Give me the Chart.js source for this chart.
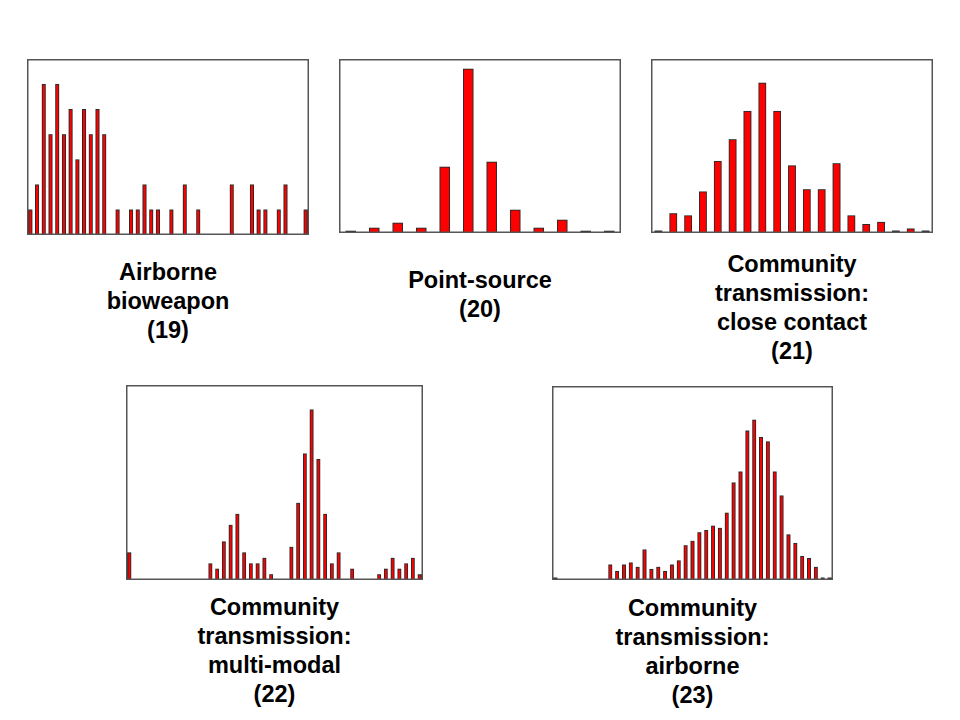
<!DOCTYPE html>
<html>
<head>
<meta charset="utf-8">
<script src="https://cdn.jsdelivr.net/npm/chart.js@4.4.0/dist/chart.umd.min.js"></script>
<style>
  html, body { margin: 0; padding: 0; background: #ffffff; }
  #stage { position: relative; width: 960px; height: 720px; background: #ffffff; overflow: hidden; }
  .box { position: absolute; }
  .box canvas { display: block; }
  .cap { position: absolute; width: 300px; text-align: center; font-family: "Liberation Sans", Arial, sans-serif;
         font-weight: bold; font-size: 23.5px; line-height: 29px; color: #000; }
</style>
</head>
<body>
<div id="stage"></div>
<script>
// ---- Data ----
const titles19 = ["Airborne", "bioweapon", "(19)"];
const titles20 = ["Point-source", "(20)"];
const titles21 = ["Community", "transmission:", "close contact", "(21)"];
const titles22 = ["Community", "transmission:", "multi-modal", "(22)"];
const titles23 = ["Community", "transmission:", "airborne", "(23)"];

const values19 = [1,2,6,4,6,4,5,3,5,4,5,4,0,1,0,1,1,2,1,1,0,1,0,2,0,1,0,0,0,0,2,0,0,2,1,1,0,1,2,0,0,1];
const values20 = [2,5,10,5,66,164,71,23,5,13,2,2];
const values21 = [1,9,8,19,33,43,56,69,56,31,20,20,32,8,4,5,1,2,1];
const values22 = [5,0,0,0,0,0,0,0,0,0,0,0,3,2,7,10,12,5,3,3,4,1,0,0,6,14,23,31,22,12,3,5,0,2,0,0,0,1,2,4,2,3,4,1];
const values23 = [1,0,0,0,0,0,0,0,7,4,7,8,6,14,5,6,4,7,9,16,18,22,23,25,24,31,45,50,69,74,66,64,50,39,21,17,11,10,6,1,1];

const yMax19 = 7, yMax20 = 174, yMax21 = 80, yMax22 = 35.5, yMax23 = 89.7;

// ---- Layout ----
const panels = [
  { vals: values19, ymax: yMax19, title: titles19, x: 27,  y: 59,  w: 282, h: 176, bar: 3.5, capTop: 258 },
  { vals: values20, ymax: yMax20, title: titles20, x: 339, y: 59,  w: 282, h: 174, bar: 10,  capTop: 266 },
  { vals: values21, ymax: yMax21, title: titles21, x: 651, y: 59,  w: 282, h: 174, bar: 7.3, capTop: 250 },
  { vals: values22, ymax: yMax22, title: titles22, x: 126, y: 385, w: 297, h: 195, bar: 3.3, capTop: 593 },
  { vals: values23, ymax: yMax23, title: titles23, x: 552, y: 386, w: 281, h: 194, bar: 3.4, capTop: 594 }
];

const frame = {
  id: 'frame',
  afterDatasetsDraw(chart) {
    const a = chart.chartArea, c = chart.ctx;
    c.save();
    c.strokeStyle = '#555555';
    c.lineWidth = 1.5;
    c.strokeRect(a.left + 0.75, a.top + 0.75, a.right - a.left - 1.5, a.bottom - a.top - 1.5);
    c.restore();
  }
};

const stage = document.getElementById('stage');
panels.forEach(p => {
  const box = document.createElement('div');
  box.className = 'box';
  box.style.left = p.x + 'px'; box.style.top = p.y + 'px';
  box.style.width = p.w + 'px'; box.style.height = p.h + 'px';
  const cv = document.createElement('canvas');
  cv.style.width = p.w + 'px'; cv.style.height = p.h + 'px';
  box.appendChild(cv);
  stage.appendChild(box);

  new Chart(cv, {
    type: 'bar',
    data: {
      labels: p.vals.map((_, i) => String(i + 1)),
      datasets: [{
        data: p.vals,
        backgroundColor: '#ff0000',
        borderColor: '#2a2a2a',
        borderWidth: 1,
        borderSkipped: 'start',
        barThickness: p.bar
      }]
    },
    options: {
      responsive: true,
      maintainAspectRatio: false,
      animation: false,
      devicePixelRatio: 2,
      layout: { padding: 0 },
      plugins: { legend: { display: false }, tooltip: { enabled: false }, title: { display: false } },
      scales: {
        x: { display: false, offset: true },
        y: { display: false, min: 0, max: p.ymax }
      }
    },
    plugins: [frame]
  });

  const cap = document.createElement('div');
  cap.className = 'cap';
  cap.style.left = (p.x + p.w / 2 - 150) + 'px';
  cap.style.top = p.capTop + 'px';
  cap.innerHTML = p.title.join('<br>');
  stage.appendChild(cap);
});
</script>
</body>
</html>
